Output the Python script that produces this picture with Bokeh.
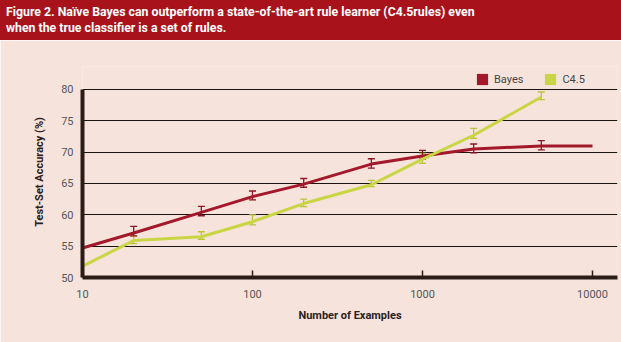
from bokeh.plotting import figure
from bokeh.layouts import column
from bokeh.models import (Range1d, FixedTicker, Whisker, TeeHead, ColumnDataSource,
                          Legend, LegendItem, Div)
from bokeh.embed import file_html
from bokeh.resources import INLINE

# ---- data ----
bayes_x = [10, 20, 50, 100, 200, 500, 1000, 2000, 5000, 10000]
bayes_y = [54.7, 57.1, 60.4, 62.9, 64.9, 68.1, 69.4, 70.5, 71.0, 71.0]
bayes_err_x = [20, 50, 100, 200, 500, 1000, 2000, 5000]
bayes_err_mid = [57.4, 60.6, 63.1, 65.1, 68.2, 69.6, 70.6, 71.1]
bayes_err = [0.75, 0.75, 0.7, 0.7, 0.75, 0.7, 0.7, 0.75]

c45_x = [10, 20, 50, 100, 200, 500, 1000, 2000, 5000]
c45_y = [51.8, 55.9, 56.5, 58.9, 61.8, 64.8, 68.9, 72.7, 78.8]
c45_err_x = [20, 50, 100, 200, 500, 1000, 2000, 5000]
c45_err_mid = [56.0, 56.7, 59.2, 61.9, 65.0, 69.0, 73.0, 79.0]
c45_err = [0.6, 0.6, 0.8, 0.6, 0.5, 0.8, 0.8, 0.6]

x_ticks = [10, 100, 1000, 10000]
y_ticks = [50, 55, 60, 65, 70, 75, 80]

title_lines = ["Figure 2. Naïve Bayes can outperform a state-of-the-art rule learner (C4.5rules) even",
               "when the true classifier is a set of rules."]

BG = "#f6e4dc"
BANNER = "#a8121b"
RED = "#a3182b"
GREEN = "#c9d542"
AXIS = "#2a1c16"

# ---- banner ----
banner = Div(
    text=('<div style="background:%s;width:621px;height:40px;box-sizing:border-box;'
          'padding:4px 6px;margin:0;color:#ffffff;font-family:Roboto,sans-serif;'
          'font-weight:bold;font-size:12.3px;line-height:16px;white-space:nowrap;">'
          '%s<br>%s</div>') % (BANNER, title_lines[0], title_lines[1]),
    width=621, height=40, margin=0)

# ---- chart ----
p = figure(width=621, height=302, output_backend="svg", toolbar_location=None,
           x_axis_type="log", x_range=Range1d(10, 14030), y_range=Range1d(50, 83.67),
           min_border_left=82, min_border_right=4, min_border_top=26, min_border_bottom=65)
p.background_fill_color = BG
p.border_fill_color = BG
p.outline_line_color = None

p.xgrid.grid_line_color = None
p.ygrid.ticker = FixedTicker(ticks=y_ticks[1:])
p.ygrid.grid_line_color = "#1a1410"
p.ygrid.grid_line_width = 1

for ax in (p.xaxis[0], p.yaxis[0]):
    ax.axis_line_color = AXIS
    ax.axis_line_width = 4
    ax.minor_tick_line_color = None
    ax.major_label_text_font = "Roboto"
    ax.major_label_text_font_size = "11px"
    ax.major_label_text_color = "#555555"
    ax.axis_label_text_font = "Roboto"
    ax.axis_label_text_font_style = "bold"
    ax.axis_label_text_font_size = "11px"
    ax.axis_label_text_color = "#2a2020"

p.xaxis.ticker = FixedTicker(ticks=x_ticks)
p.xaxis.major_label_overrides = {t: str(t) for t in x_ticks}
p.xaxis.major_tick_in = 7
p.xaxis.major_tick_out = 0
p.xaxis.major_tick_line_color = AXIS
p.xaxis.major_tick_line_width = 1.5
p.xaxis.major_label_standoff = 12
p.xaxis.axis_label = "Number of Examples"
p.xaxis.axis_label_standoff = 8

p.yaxis.ticker = FixedTicker(ticks=y_ticks)
p.yaxis.bounds = (50, 80)
p.yaxis.major_tick_line_color = None
p.yaxis.major_tick_in = 0
p.yaxis.major_tick_out = 0
p.yaxis.major_label_standoff = 9
p.yaxis.axis_label = "Test-Set Accuracy (%)"
p.yaxis.axis_label_standoff = 12

p.line(bayes_x, bayes_y, line_color=RED, line_width=3)
p.line(c45_x, c45_y, line_color=GREEN, line_width=3)


def add_err(xs, mids, errs, color, fill):
    src = ColumnDataSource(dict(x=xs, lower=[m - e for m, e in zip(mids, errs)],
                                upper=[m + e for m, e in zip(mids, errs)]))
    w = Whisker(base="x", lower="lower", upper="upper", source=src,
                line_color=color, line_width=1.3,
                upper_head=TeeHead(size=7, line_color=color, line_width=1.3),
                lower_head=TeeHead(size=7, line_color=color, line_width=1.3))
    p.add_layout(w)
    # hidden renderer used only to supply the square legend swatch
    r = p.quad(left="x", right="x", bottom="lower", top="upper", source=src,
               fill_color=fill, line_color=None)
    r.visible = False
    return r


r_c = add_err(c45_err_x, c45_err_mid, c45_err, "#b9c43a", GREEN)
r_b = add_err(bayes_err_x, bayes_err_mid, bayes_err, "#8e1424", RED)

legend = Legend(items=[LegendItem(label="Bayes", renderers=[r_b]),
                       LegendItem(label="C4.5", renderers=[r_c])],
                location=(393, 191), orientation="horizontal",
                glyph_width=14, glyph_height=14, label_standoff=5, spacing=20,
                padding=0, margin=0, background_fill_alpha=0, border_line_alpha=0,
                label_text_font="Roboto", label_text_font_size="11px",
                label_text_color="#444444", label_height=14)
p.add_layout(legend, "center")

layout = column(banner, p, spacing=0)
open("out.html", "w").write(file_html(layout, INLINE))
